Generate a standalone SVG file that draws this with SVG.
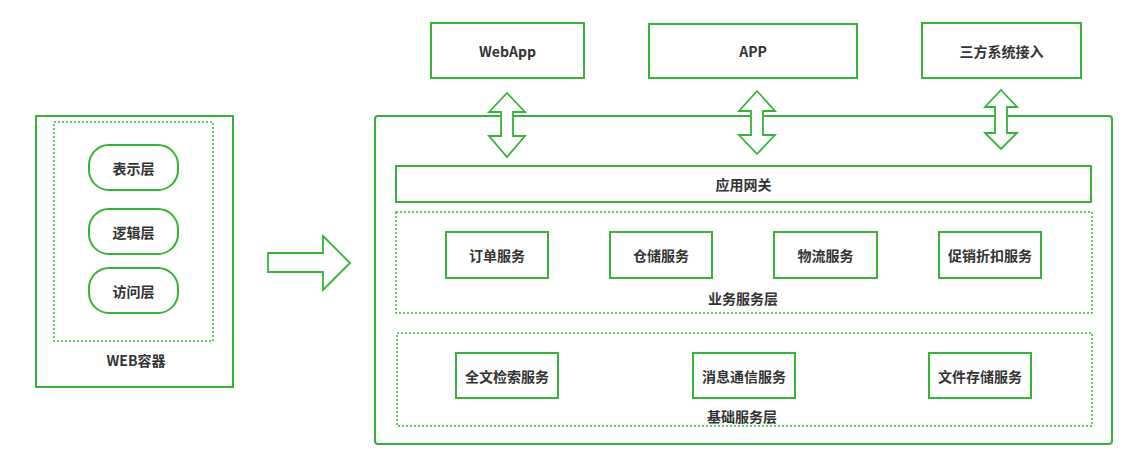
<svg xmlns="http://www.w3.org/2000/svg" width="1143" height="457" viewBox="0 0 1143 457">
<style>
.box{fill:#fff;stroke:#36b336;stroke-width:2}
.dash{fill:none;stroke:#36b336;stroke-width:1.5;stroke-dasharray:2 2}
.arr{fill:#fff;stroke:#36b336;stroke-width:1.8;stroke-linejoin:miter}
text{font-family:"Noto Sans CJK SC","Microsoft YaHei",sans-serif;font-weight:bold;font-size:14px;fill:#333;text-anchor:middle;dominant-baseline:central}
</style>
<rect width="1143" height="457" fill="#fff"/>
<g id="web-container">
<rect class="box" x="36" y="116" width="197" height="271"/>
<rect class="dash" x="54" y="122" width="159" height="219"/>
<text x="136" y="360">WEB容器</text>
</g>
<g id="presentation"><rect class="box" x="89" y="145" width="89" height="45" rx="20"/><text x="133.5" y="167.5">表示层</text></g>
<g id="logic"><rect class="box" x="89" y="209" width="89" height="45" rx="20"/><text x="133.5" y="231.5">逻辑层</text></g>
<g id="access"><rect class="box" x="89" y="268" width="89" height="45" rx="20"/><text x="133.5" y="290.5">访问层</text></g>
<g id="main-container">
<rect class="box" x="375" y="116" width="737" height="328" rx="3"/>
</g>
<g id="webapp"><rect class="box" x="431" y="23" width="153" height="55"/><text x="507.5" y="50.5">WebApp</text></g>
<g id="app"><rect class="box" x="649" y="24" width="208" height="54"/><text x="753" y="51">APP</text></g>
<g id="thirdparty"><rect class="box" x="922" y="23" width="159" height="55"/><text x="1001.5" y="50.5">三方系统接入</text></g>
<g id="gateway"><rect class="box" x="396" y="166" width="695" height="36"/><text x="743.5" y="184">应用网关</text></g>
<g id="biz-layer"><rect class="dash" x="396" y="212" width="696" height="101"/><text x="743" y="298">业务服务层</text></g>
<g id="order"><rect class="box" x="446" y="232" width="102" height="46"/><text x="497" y="255">订单服务</text></g>
<g id="storage"><rect class="box" x="610" y="232" width="102" height="46"/><text x="661" y="255">仓储服务</text></g>
<g id="logistics"><rect class="box" x="774" y="232" width="103" height="46"/><text x="825.5" y="255">物流服务</text></g>
<g id="promo"><rect class="box" x="939" y="232" width="102" height="46"/><text x="990" y="255">促销折扣服务</text></g>
<g id="base-layer"><rect class="dash" x="397" y="333" width="695" height="93"/><text x="742" y="416">基础服务层</text></g>
<g id="search"><rect class="box" x="456" y="353" width="102" height="45"/><text x="507" y="375.5">全文检索服务</text></g>
<g id="message"><rect class="box" x="693" y="353" width="102" height="45"/><text x="744" y="375.5">消息通信服务</text></g>
<g id="file"><rect class="box" x="929" y="353" width="102" height="45"/><text x="980" y="375.5">文件存储服务</text></g>
<g id="connectors">
<polygon class="arr" points="268,253 323,253 323,236 350,263 323,290 323,272 268,272"/>
<polygon class="arr" points="507,93 525,112 513,112 513,136 525,136 507,157 489,136 501,136 501,112 489,112"/>
<polygon class="arr" points="757,91 775,111 763,111 763,135 775,135 757,154 739,135 751,135 751,111 739,111"/>
<polygon class="arr" points="1001,90 1017,107 1007,107 1007,133 1017,133 1001,149 985,133 995,133 995,107 985,107"/>
</g>
</svg>
